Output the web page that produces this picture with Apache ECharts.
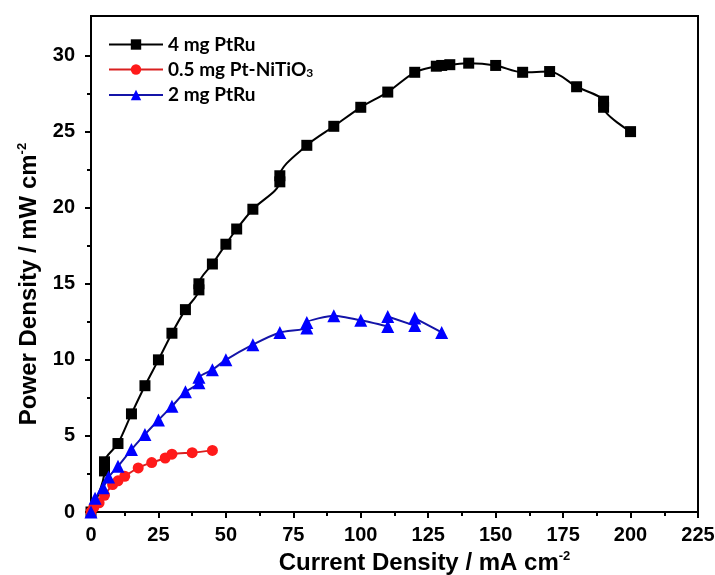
<!DOCTYPE html>
<html>
<head>
<meta charset="utf-8">
<script src="https://cdn.jsdelivr.net/npm/echarts@6/dist/echarts.min.js"></script>
<style>
  html, body { margin: 0; padding: 0; background: #fff; }
  #chart { width: 715px; height: 575px; }
</style>
</head>
<body>
<div id="chart"></div>
<script>
// 4 mg PtRu  [current density, power density]
const ptru4 = [
  [0, 0], [5, 2.7], [5, 3.3], [10, 4.5], [15, 6.45], [20, 8.3], [25, 10.0],
  [30, 11.75], [35, 13.3], [40, 14.6], [40, 15.0], [45, 16.3], [50, 17.6],
  [54, 18.6], [60, 19.9], [70, 21.7], [70, 22.1], [80, 24.1], [90, 25.35],
  [100, 26.6], [110, 27.6], [120, 28.9], [128, 29.3], [130, 29.35], [133, 29.4],
  [140, 29.5], [150, 29.35], [160, 28.9], [170, 28.95], [180, 27.95],
  [190, 27.0], [190, 26.6], [200, 25.0]
];
// 0.5 mg Pt-NiTiO3
const ptNiTiO3 = [
  [0, 0], [1, 0.3], [3, 0.6], [5, 1.1], [8, 1.8], [10, 2.05], [12.5, 2.35],
  [17.5, 2.9], [22.5, 3.25], [27.5, 3.55], [30, 3.8], [37.5, 3.9], [45, 4.05]
];
// 2 mg PtRu
const ptru2 = [
  [0, 0], [1.5, 0.9], [4.5, 1.6], [6.5, 2.3], [10, 3.0], [15, 4.1], [20, 5.1],
  [25, 6.05], [30, 6.95], [35, 7.9], [40, 8.5], [40, 8.85], [45, 9.35],
  [50, 10.0], [60, 11.0], [70, 11.8], [80, 12.1], [80, 12.45], [90, 12.9],
  [100, 12.6], [110, 12.2], [110, 12.85], [120, 12.25], [120, 12.75], [130, 11.8]
];
const yMajor = [0, 5, 10, 15, 20, 25, 30];
const yMinor = [2.5, 7.5, 12.5, 17.5, 22.5, 27.5];

const labelFont = 'Liberation Sans, Arial, sans-serif';
const legendFont = 'Lato, Open Sans, sans-serif';
const supStyle = { fontFamily: labelFont, fontSize: 13, fontWeight: 'bold', verticalAlign: 'top', padding: [0, 0, 14, 0] };

let myChart = echarts.init(document.getElementById('chart'));
myChart.setOption({
  animation: false,
  grid: {
    left: 91, right: 17, top: 16, bottom: 63,
    outerBoundsMode: 'none',
    containLabel: false,
    show: true, borderColor: '#000', borderWidth: 2
  },
  legend: {
    orient: 'vertical',
    left: 103,
    top: 30,
    itemWidth: 54,
    itemHeight: 13,
    itemGap: 6,
    textStyle: {
      fontFamily: legendFont, fontSize: 19, fontWeight: 'bold', color: '#000',
      rich: {
        sub: { fontFamily: legendFont, fontSize: 12, fontWeight: 'bold', verticalAlign: 'bottom', padding: [8, 0, 0, 0] }
      }
    },
    formatter: function (name) {
      if (name === '0.5 mg Pt-NiTiO3') return '0.5 mg Pt-NiTiO{sub|3}';
      return name;
    }
  },
  xAxis: {
    type: 'value',
    min: 0, max: 225, interval: 25,
    name: 'Current Density / mA cm{sup|-2}',
    nameLocation: 'middle',
    nameGap: 37,
    nameTextStyle: {
      fontFamily: labelFont, fontSize: 24, fontWeight: 'bold', color: '#000',
      padding: [0, 0, 0, 60],
      rich: { sup: supStyle }
    },
    axisLine: { lineStyle: { color: '#000', width: 2 } },
    axisTick: { inside: false, length: 6, lineStyle: { color: '#000', width: 2 } },
    minorTick: { show: true, splitNumber: 2, length: 4, lineStyle: { color: '#000', width: 2 } },
    axisLabel: { fontFamily: labelFont, fontSize: 20, fontWeight: 'bold', color: '#000', margin: 13 },
    splitLine: { show: false }
  },
  yAxis: [
    {
      type: 'value',
      min: 0, max: 32.6,
      name: 'Power Density / mW cm{sup|-2}',
      nameLocation: 'middle',
      nameGap: 46,
      nameRotate: 90,
      nameTextStyle: {
        fontFamily: labelFont, fontSize: 24, fontWeight: 'bold', color: '#000',
        padding: [0, 40, 0, 0],
        rich: { sup: supStyle }
      },
      axisLine: { lineStyle: { color: '#000', width: 2 } },
      axisTick: { customValues: yMajor, length: 6, lineStyle: { color: '#000', width: 2 } },
      axisLabel: { customValues: yMajor, fontFamily: labelFont, fontSize: 20, fontWeight: 'bold', color: '#000', margin: 16 },
      splitLine: { show: false }
    },
    {
      // minor ticks only
      type: 'value',
      position: 'left',
      min: 0, max: 32.6,
      axisLine: { show: false },
      axisTick: { customValues: yMinor, length: 4, lineStyle: { color: '#000', width: 2 } },
      axisLabel: { show: false },
      splitLine: { show: false }
    }
  ],
  series: [
    {
      name: '4 mg PtRu',
      type: 'line',
      data: ptru4,
      smooth: 0.3,
      symbol: 'rect',
      symbolSize: 11,
      lineStyle: { color: '#000', width: 2 },
      itemStyle: { color: '#000' }
    },
    {
      name: '0.5 mg Pt-NiTiO3',
      type: 'line',
      data: ptNiTiO3,
      smooth: 0.3,
      symbol: 'circle',
      symbolSize: 11,
      lineStyle: { color: '#d92020', width: 2 },
      itemStyle: { color: '#ff1a1a' }
    },
    {
      name: '2 mg PtRu',
      type: 'line',
      data: ptru2,
      smooth: 0.2,
      symbol: 'triangle',
      symbolSize: 13,
      lineStyle: { color: '#1414a8', width: 2 },
      itemStyle: { color: '#0000ff' }
    }
  ]
});
</script>
</body>
</html>
